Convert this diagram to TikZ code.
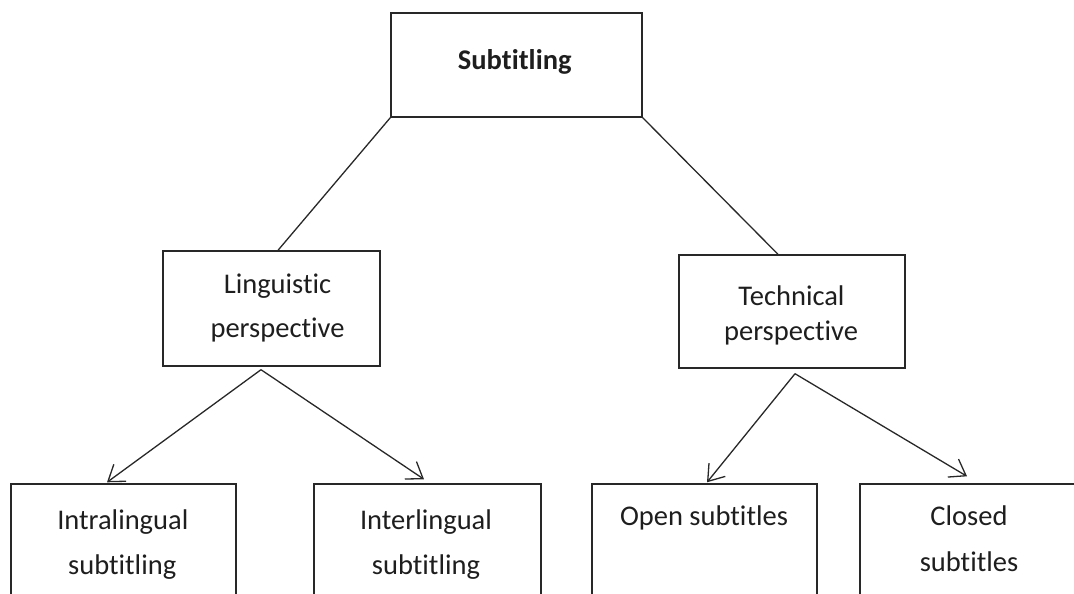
\documentclass[tikz,border=0pt]{standalone}
\usepackage{fontspec}
\setmainfont{Carlito}[Ligatures={NoCommon,NoRequired}]
\usetikzlibrary{arrows.meta,calc}
\definecolor{ink}{RGB}{40,40,40}
\definecolor{txtc}{RGB}{30,30,30}
\tikzset{
  box/.style={draw=ink, line width=1.4pt, rectangle, inner sep=0pt, fill=none},
  txt/.style={font=\fontsize{28.5}{34}\selectfont, text=txtc, inner sep=0pt, anchor=base},
  link/.style={draw=ink, line width=1.3pt},
  arr/.style={draw=ink, line width=1.3pt, -{Straight Barb[length=15pt,width=21pt,line width=1.3pt]}}
}
\begin{document}
\begin{tikzpicture}[x=1pt,y=-1pt]
\useasboundingbox (0,0) rectangle (1074,594);
% boxes
\node[box, minimum width=251pt, minimum height=104pt] (top) at (516.5,65) {};
\node[box, minimum width=217pt, minimum height=115pt] (ling) at (271.5,308.5) {};
\node[box, minimum width=226pt, minimum height=113pt] (tech) at (792,311.5) {};
\node[box, minimum width=225pt, minimum height=156pt] (intra) at (123.5,562) {};
\node[box, minimum width=227pt, minimum height=156pt] (inter) at (427.5,562) {};
\node[box, minimum width=225pt, minimum height=156pt] (open) at (704.5,562) {};
\node[box, minimum width=240pt, minimum height=156pt] (closed) at (980,562) {};
% texts
\node[txt] (t0) at (514.7,70) {\bfseries Subtitling};
\node[txt] (t1a) at (277.5,293) {Linguistic};
\node[txt] (t1b) at (277.5,337) {perspective};
\node[txt] (t2a) at (791.5,305) {Technical};
\node[txt] (t2b) at (791,340) {perspective};
\node[txt] (t3a) at (122.8,529) {Intralingual};
\node[txt] (t3b) at (122.2,574) {subtitling};
\node[txt] (t4a) at (426,529) {Interlingual};
\node[txt] (t4b) at (426,574) {subtitling};
\node[txt] (t5a) at (704,525) {Open subtitles};
\node[txt] (t6a) at (969,525) {Closed};
\node[txt] (t6b) at (969,571) {subtitles};
% connectors
\draw[link] (top.south west) -- ($(ling.north)+(6.5pt,0pt)$);
\draw[link] (top.south east) -- ($(tech.north)+(-14pt,0pt)$);
\draw[arr] ($(ling.south)+(-10.5pt,-3pt)$) -- ($(intra.north)+(-16.5pt,1pt)$);
\draw[arr] ($(ling.south)+(-10.5pt,-3pt)$) -- ($(inter.north)+(-3.5pt,4pt)$);
\draw[arr] ($(tech.south)+(3pt,-5pt)$) -- ($(open.north)+(2.5pt,1pt)$);
\draw[arr] ($(tech.south)+(3pt,-5pt)$) -- ($(closed.north)+(-13pt,7pt)$);
\end{tikzpicture}
\end{document}
